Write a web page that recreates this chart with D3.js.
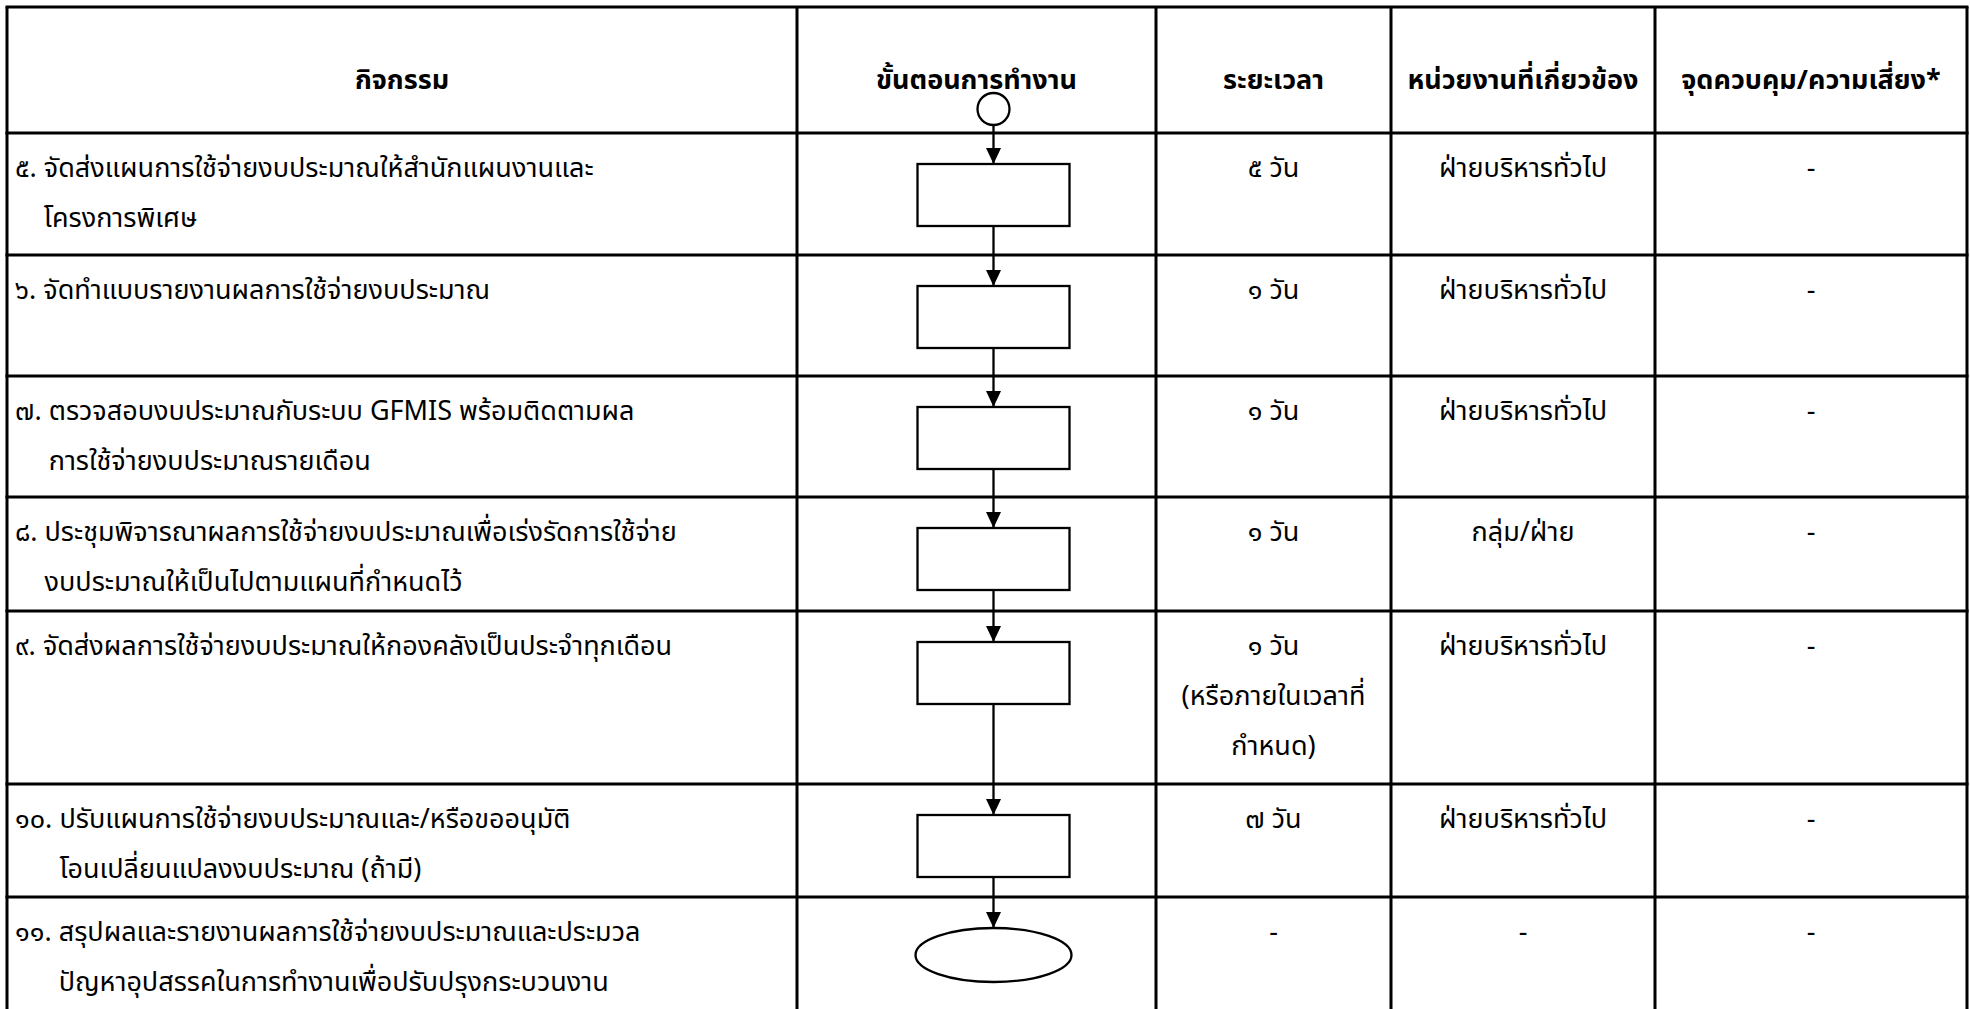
<!DOCTYPE html>
<html>
<head>
<meta charset="utf-8">
<script src="https://cdn.jsdelivr.net/npm/d3@7"></script>
<style>
  html, body { margin: 0; padding: 0; background: #fff; }
  svg { display: block; }
  text { font-family: "Noto Sans Thai", "Noto Sans", "DejaVu Sans", sans-serif; fill: #000; }
</style>
</head>
<body>
<svg id="chart" width="1970" height="1009"></svg>
<script>
// ---------- data ----------
const headers = ["กิจกรรม", "ขั้นตอนการทำงาน", "ระยะเวลา", "หน่วยงานที่เกี่ยวข้อง", "จุดควบคุม/ความเสี่ยง*"];
const activityNo = ["๕.", "๖.", "๗.", "๘.", "๙.", "๑๐.", "๑๑."];
const activities = [
  ["จัดส่งแผนการใช้จ่ายงบประมาณให้สำนักแผนงานและ", "โครงการพิเศษ"],
  ["จัดทำแบบรายงานผลการใช้จ่ายงบประมาณ"],
  ["ตรวจสอบงบประมาณกับระบบ GFMIS พร้อมติดตามผล", "การใช้จ่ายงบประมาณรายเดือน"],
  ["ประชุมพิจารณาผลการใช้จ่ายงบประมาณเพื่อเร่งรัดการใช้จ่าย", "งบประมาณให้เป็นไปตามแผนที่กำหนดไว้"],
  ["จัดส่งผลการใช้จ่ายงบประมาณให้กองคลังเป็นประจำทุกเดือน"],
  ["ปรับแผนการใช้จ่ายงบประมาณและ/หรือขออนุมัติ", "โอนเปลี่ยนแปลงงบประมาณ (ถ้ามี)"],
  ["สรุปผลและรายงานผลการใช้จ่ายงบประมาณและประมวล", "ปัญหาอุปสรรคในการทำงานเพื่อปรับปรุงกระบวนงาน"]
];
const durations = [
  ["๕ วัน"], ["๑ วัน"], ["๑ วัน"], ["๑ วัน"],
  ["๑ วัน", "(หรือภายในเวลาที่", "กำหนด)"],
  ["๗ วัน"], ["-"]
];
const units = ["ฝ่ายบริหารทั่วไป", "ฝ่ายบริหารทั่วไป", "ฝ่ายบริหารทั่วไป", "กลุ่ม/ฝ่าย", "ฝ่ายบริหารทั่วไป", "ฝ่ายบริหารทั่วไป", "-"];
const controls = ["-", "-", "-", "-", "-", "-", "-"];
const shapes = ["process", "process", "process", "process", "process", "process", "terminator"];

// ---------- layout ----------
const colEdges = [7, 797, 1156, 1391, 1655, 1967];
const rowEdges = [7, 133, 255, 376, 497, 611, 784, 897, 1015];
const x = d3.scaleLinear().domain(d3.range(colEdges.length)).range(colEdges);
const y = d3.scaleLinear().domain(d3.range(rowEdges.length)).range(rowEdges);
const colMid = i => (x(i) + x(i + 1)) / 2;

const FS = 27, HFS = 27, LINE = 50, FIRST = 44;
const svg = d3.select("#chart");

svg.append("defs").append("marker")
  .attr("id", "arrow").attr("viewBox", "0 0 10 10")
  .attr("refX", 10).attr("refY", 5)
  .attr("markerWidth", 16).attr("markerHeight", 16)
  .attr("markerUnits", "userSpaceOnUse")
  .attr("orient", "auto")
  .append("path").attr("d", "M0,0.3 L10,5 L0,9.7 Z").attr("fill", "#000");

// ---------- grid ----------
const grid = svg.append("g").attr("stroke", "#000").attr("stroke-width", 3);
grid.selectAll("line.h").data(d3.range(rowEdges.length - 1)).join("line")
  .attr("x1", x(0) - 1.5).attr("x2", x(colEdges.length - 1) + 1.5)
  .attr("y1", d => y(d)).attr("y2", d => y(d));
grid.selectAll("line.v").data(d3.range(colEdges.length)).join("line")
  .attr("x1", d => x(d)).attr("x2", d => x(d))
  .attr("y1", y(0)).attr("y2", y(rowEdges.length - 1));

// ---------- header ----------
svg.append("g").selectAll("text").data(headers).join("text")
  .attr("x", (d, i) => colMid(i))
  .attr("y", y(0) + 82)
  .attr("text-anchor", "middle")
  .attr("font-size", HFS).attr("font-weight", "bold")
  .text(d => d);

// ---------- body text ----------
const body = svg.append("g").attr("font-size", FS);
activities.forEach((lines, r) => {
  const g = body.append("g");
  const num = g.append("text")
    .attr("x", x(0) + 8).attr("y", y(r + 1) + FIRST)
    .text(activityNo[r] + "\u00a0");
  const indent = x(0) + 8 + num.node().getComputedTextLength();
  g.selectAll("text.line").data(lines).join("text").attr("class", "line")
    .attr("x", indent)
    .attr("y", (d, k) => y(r + 1) + FIRST + k * LINE)
    .text(d => d);
});
durations.forEach((lines, r) => {
  body.append("g").selectAll("text").data(lines).join("text")
    .attr("x", colMid(2)).attr("text-anchor", "middle")
    .attr("y", (d, k) => y(r + 1) + FIRST + k * LINE)
    .text(d => d);
});
[units, controls].forEach((arr, c) => {
  body.append("g").selectAll("text").data(arr).join("text")
    .attr("x", colMid(3 + c)).attr("text-anchor", "middle")
    .attr("y", (d, r) => y(r + 1) + FIRST)
    .text(d => d);
});

// ---------- flowchart ----------
const BW = 152, BH = 62, TOPGAP = 31, ERX = 78, ERY = 27;
const cx = colMid(1) + 17;
const flow = svg.append("g").attr("stroke", "#000").attr("stroke-width", 2.3).attr("fill", "#fff");

// start connector circle
const startCy = y(0) + 102, startR = 16;
flow.append("circle").attr("cx", cx).attr("cy", startCy).attr("r", startR);

const nodes = shapes.map((s, i) => {
  const top = y(i + 1) + TOPGAP;
  const h = s === "terminator" ? 2 * ERY : BH;
  return { type: s, top, bottom: top + h };
});

// connectors
const links = nodes.map((n, i) => ({ from: i === 0 ? startCy + startR : nodes[i - 1].bottom, to: n.top }));
flow.selectAll("line.link").data(links).join("line")
  .attr("x1", cx).attr("x2", cx)
  .attr("y1", d => d.from).attr("y2", d => d.to)
  .attr("marker-end", "url(#arrow)");

flow.selectAll("rect").data(nodes.filter(n => n.type === "process")).join("rect")
  .attr("x", cx - BW / 2).attr("y", d => d.top)
  .attr("width", BW).attr("height", BH);
flow.selectAll("ellipse").data(nodes.filter(n => n.type === "terminator")).join("ellipse")
  .attr("cx", cx).attr("cy", d => d.top + ERY)
  .attr("rx", ERX).attr("ry", ERY);
</script>
</body>
</html>
